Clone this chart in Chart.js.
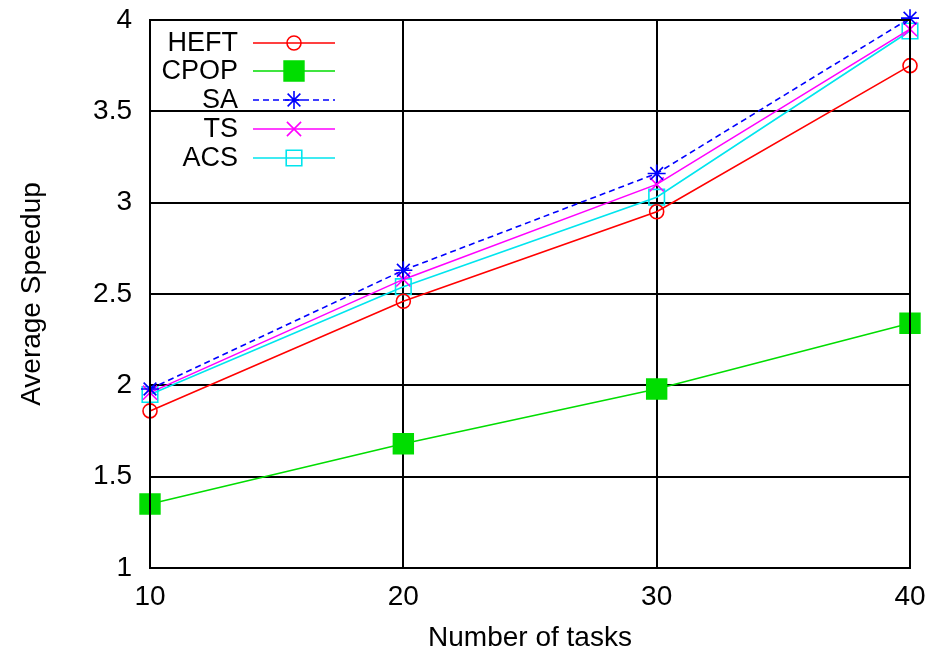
<!DOCTYPE html>
<html>
<head>
<meta charset="utf-8">
<script src="https://cdn.jsdelivr.net/npm/chart.js@4.4.1/dist/chart.umd.min.js"></script>
<style>
  html, body { margin: 0; padding: 0; background: #fff; }
  #wrap { width: 944px; height: 655px; }
</style>
</head>
<body>
<div id="wrap"><canvas id="speedupChart" width="944" height="655"></canvas></div>
<script>
// data
const tasks = ["10", "20", "30", "40"];
const heft = [1.86, 2.46, 2.95, 3.75];
const cpop = [1.35, 1.68, 1.98, 2.34];
const sa   = [1.98, 2.63, 3.16, 4.01];
const ts   = [1.96, 2.58, 3.10, 3.95];
const acs  = [1.95, 2.54, 3.03, 3.94];
const yTicks = [1, 1.5, 2, 2.5, 3, 3.5, 4];

const FONT = "'Liberation Sans', Arial, sans-serif";

// gnuplot style legend: label right aligned, then line sample with marker
const gnuLegend = {
  id: "gnuLegend",
  afterDraw(chart) {
    const ctx = chart.ctx;
    const rows = [43, 71, 100, 129, 158];
    const textRight = 238;
    const x0 = 253, x1 = 335;
    ctx.save();
    chart.data.datasets.forEach((ds, i) => {
      const y = rows[i];
      ctx.fillStyle = "#000";
      ctx.font = "27px " + FONT;
      ctx.textAlign = "right";
      ctx.textBaseline = "middle";
      ctx.fillText(ds.label, textRight, y + 1);

      ctx.strokeStyle = ds.borderColor;
      ctx.lineWidth = ds.borderWidth;
      ctx.setLineDash(ds.borderDash || []);
      ctx.beginPath();
      ctx.moveTo(x0, y);
      ctx.lineTo(x1, y);
      ctx.stroke();
      ctx.setLineDash([]);

      ctx.fillStyle = ds.pointBackgroundColor;
      ctx.strokeStyle = ds.borderColor;
      ctx.lineWidth = ds.pointBorderWidth;
      Chart.helpers.drawPoint(ctx, {
        pointStyle: ds.pointStyle,
        radius: ds.pointRadius,
        rotation: 0,
        borderWidth: ds.pointBorderWidth
      }, (x0 + x1) / 2, y);
    });
    ctx.restore();
  }
};

function series(label, data, color, style, radius, filled, dash) {
  return {
    label: label,
    data: data,
    borderColor: color,
    backgroundColor: color,
    borderWidth: 1.6,
    borderDash: dash || [],
    pointStyle: style,
    pointRadius: radius,
    pointBorderWidth: 1.6,
    pointBackgroundColor: filled ? color : "rgba(0,0,0,0)",
    pointBorderColor: color,
    tension: 0,
    fill: false,
    clip: false
  };
}

new Chart(document.getElementById("speedupChart").getContext("2d"), {
  type: "line",
  data: {
    labels: tasks,
    datasets: [
      series("HEFT", heft, "#ff0000", "circle", 7, false),
      series("CPOP", cpop, "#00dd00", "rect", 14, true),
      series("SA", sa, "#0000ff", "star", 9, false, [6, 4]),
      series("TS", ts, "#ff00ff", "crossRot", 10, false),
      series("ACS", acs, "#00e5ee", "rect", 11, false)
    ]
  },
  options: {
    responsive: false,
    animation: false,
    maintainAspectRatio: false,
    layout: { padding: { left: 0, right: 34, top: 20, bottom: 0 } },
    plugins: {
      legend: { display: false },
      tooltip: { enabled: false }
    },
    scales: {
      x: {
        type: "category",
        offset: false,
        grid: { color: "#000", lineWidth: 2, drawTicks: false },
        border: { color: "#000", width: 2 },
        ticks: { color: "#000", padding: 12, font: { size: 28, family: FONT } },
        title: {
          display: true,
          text: "Number of tasks",
          color: "#000",
          font: { size: 28, family: FONT },
          padding: { top: 0, bottom: 0 }
        },
        afterFit(scale) {
          scale.height = 87;
          scale.paddingLeft = 0;
          scale.paddingRight = 0;
        }
      },
      y: {
        min: 1,
        max: 4,
        afterBuildTicks(scale) { scale.ticks = yTicks.map(v => ({ value: v })); },
        grid: { color: "#000", lineWidth: 2, drawTicks: false },
        border: { color: "#000", width: 2 },
        ticks: {
          color: "#000",
          padding: 18,
          font: { size: 28, family: FONT },
          callback: v => String(v)
        },
        title: {
          display: true,
          text: "Average Speedup",
          color: "#000",
          font: { size: 28, family: FONT },
          padding: { top: 15, bottom: 0 }
        },
        afterFit(scale) {
          scale.width = 150;
          scale.paddingTop = 0;
          scale.paddingBottom = 0;
        }
      }
    }
  },
  plugins: [gnuLegend, {
    id: "frame",
    afterDraw(chart) {
      const a = chart.chartArea, ctx = chart.ctx;
      ctx.save();
      ctx.strokeStyle = "#000";
      ctx.lineWidth = 2;
      ctx.strokeRect(a.left, a.top, a.right - a.left, a.bottom - a.top);
      ctx.restore();
    }
  }]
});
</script>
</body>
</html>
